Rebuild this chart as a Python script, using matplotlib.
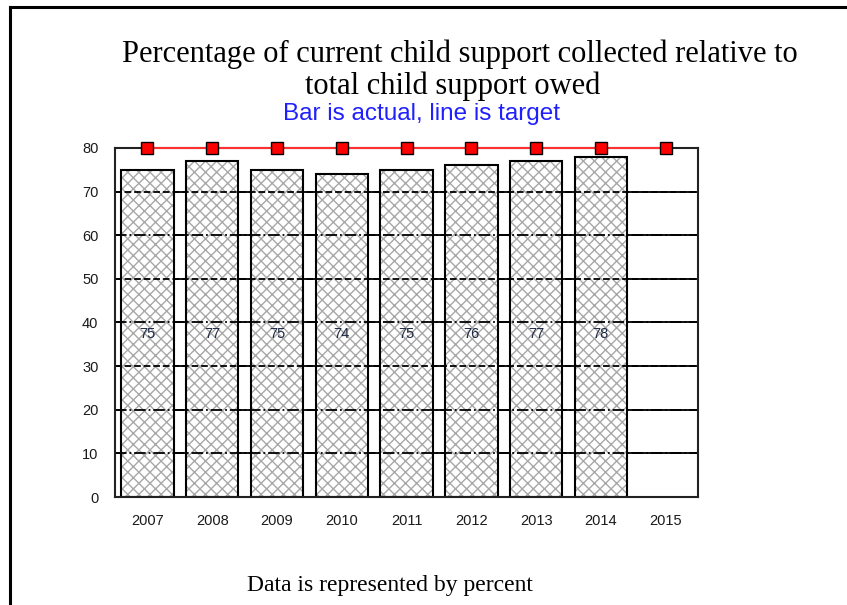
import numpy as np
import matplotlib.pyplot as plt
from matplotlib.lines import Line2D

years = ['2007', '2008', '2009', '2010', '2011', '2012', '2013', '2014', '2015']
actual = [75, 77, 75, 74, 75, 76, 77, 78]   # no 2015 value yet
target = [80, 80, 80, 80, 80, 80, 80, 80, 80]
yticks = [0, 10, 20, 30, 40, 50, 60, 70, 80]
grid_styles = {10: '-.', 20: '-.', 30: '--', 40: '-.', 50: '--', 60: '-.', 70: '--'}

plt.rcParams['hatch.linewidth'] = 1.0
plt.rcParams['font.family'] = ['Liberation Sans', 'DejaVu Sans']

fig = plt.figure(figsize=(8.47, 6.05), dpi=100, facecolor='white')
ax = fig.add_axes([0.1358, 0.1785, 0.6883, 0.577])

x = np.arange(len(years))
xb = x[:len(actual)]

# solid grid behind the bars, broken grid drawn over them
for v in yticks[1:-1]:
    ax.axhline(v, color='black', lw=1.3, zorder=1)
    ax.axhline(v, color='black', lw=1.3, ls=grid_styles[v], zorder=3)

# grey cross-hatch fill, then black outlines on top
ax.bar(xb, actual, width=0.81, color='white', edgecolor='#a8a8a8',
       linewidth=0, hatch='xxx', zorder=2)
ax.bar(xb, actual, width=0.81, fill=False, edgecolor='black',
       linewidth=1.5, zorder=3.5)

for i, v in enumerate(actual):
    ax.text(i, 37.3, str(v), ha='center', va='center', fontsize=10.5,
            color='#1f2a44', zorder=4)

ax.plot(x, target, color='#ff3030', lw=1.5, marker='s', markersize=9,
        markerfacecolor='#ff0000', markeredgecolor='black', markeredgewidth=1,
        clip_on=False, zorder=5)

ax.set_xlim(-0.5, len(years) - 0.5)
ax.set_ylim(0, 80)
ax.set_xticks(x)
ax.set_xticklabels(years)
ax.set_yticks(yticks)
ax.tick_params(length=0, labelsize=10.5, labelcolor='#1a1a1a')
ax.tick_params(axis='y', pad=12)
ax.tick_params(axis='x', pad=12)
for s in ax.spines.values():
    s.set_linewidth(1.5)
    s.set_color('#222222')
    s.set_zorder(4.5)

fig.text(0.543, 0.910, 'Percentage of current child support collected relative to',
         ha='center', va='center', fontsize=22, family='Liberation Serif')
fig.text(0.534, 0.857, 'total child support owed',
         ha='center', va='center', fontsize=22, family='Liberation Serif')
fig.text(0.498, 0.812, 'Bar is actual, line is target', ha='center', va='center',
         fontsize=17.5, color='#2020ff')
fig.text(0.460, 0.033, 'Data is represented by percent', ha='center', va='center',
         fontsize=17, family='Liberation Serif')

# page frame on the top and left edges
fig.add_artist(Line2D([0.012, 0.012], [0, 0.988], color='black', lw=2.2,
                      transform=fig.transFigure))
fig.add_artist(Line2D([0.012, 1.0], [0.988, 0.988], color='black', lw=2.2,
                      transform=fig.transFigure))

fig.savefig('out.png', dpi=100)
